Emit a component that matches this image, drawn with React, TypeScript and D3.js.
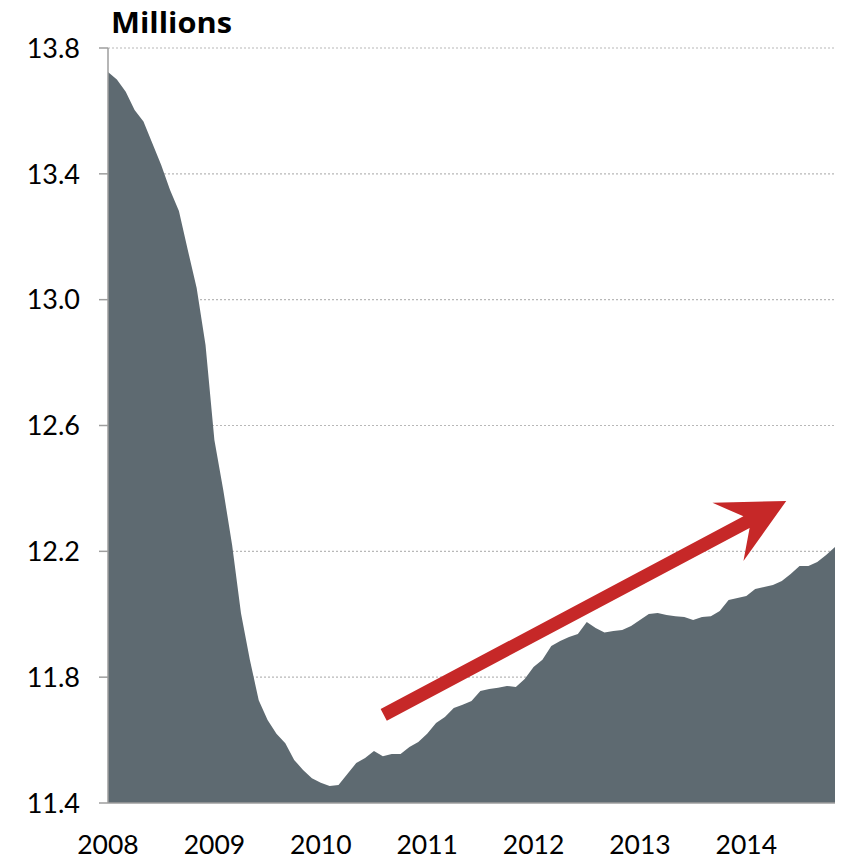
import React from "react";
import * as d3 from "d3";

// Monthly values, Jan 2008 – Nov 2014 (millions)
const values: number[] = [
  13.724, 13.7, 13.661, 13.603, 13.566, 13.497, 13.428, 13.349, 13.282, 13.158, 13.037, 12.856,
  12.554, 12.395, 12.22, 12.003, 11.855, 11.727, 11.664, 11.62, 11.59, 11.537, 11.505, 11.479,
  11.464, 11.454, 11.457, 11.492, 11.527, 11.543, 11.565, 11.549, 11.556, 11.556, 11.578, 11.594,
  11.62, 11.654, 11.673, 11.702, 11.712, 11.724, 11.756, 11.762, 11.766, 11.772, 11.769, 11.794,
  11.832, 11.855, 11.899, 11.915, 11.928, 11.937, 11.975, 11.956, 11.942, 11.947, 11.95, 11.963,
  11.982, 12.001, 12.004, 11.998, 11.994, 11.991, 11.982, 11.991, 11.994, 12.01, 12.045, 12.052,
  12.058, 12.08, 12.087, 12.093, 12.106, 12.128, 12.153, 12.153, 12.166, 12.188, 12.214,
];
const years: string[] = ["2008", "2009", "2010", "2011", "2012", "2013", "2014"];
const yTicks: number[] = [11.4, 11.8, 12.2, 12.6, 13.0, 13.4, 13.8];
const unitLabel = "Millions";
// trend arrow annotation: [month index, value]
const arrowStart: [number, number] = [31.1, 11.68];
const arrowEnd: [number, number] = [76.5, 12.36];

export default function App() {
  const W = 841, H = 859;
  const left = 108, right = 835, top = 48, bottom = 803;
  const x = d3.scaleLinear().domain([0, values.length - 1]).range([left, right]);
  const y = d3.scaleLinear().domain([11.4, 13.8]).range([bottom, top]);
  const area = d3
    .area<number>()
    .x((_, i) => x(i))
    .y0(y(11.4))
    .y1((d) => y(d));

  // arrow geometry
  const sx = x(arrowStart[0]), sy = y(arrowStart[1]);
  const ex = x(arrowEnd[0]), ey = y(arrowEnd[1]);
  const len = Math.hypot(ex - sx, ey - sy);
  const ux = (ex - sx) / len, uy = (ey - sy) / len;
  const px = -uy, py = ux;
  const pt = (along: number, perp: number) =>
    [ex - ux * along + px * perp, ey - uy * along + py * perp] as [number, number];
  const halfW = 6.6;
  const notch = 45, barb = 66, barbW = 33;
  const arrowPts: [number, number][] = [
    [sx + px * halfW, sy + py * halfW],
    pt(notch, halfW),
    pt(barb, barbW),
    [ex, ey],
    pt(barb, -barbW),
    pt(notch, -halfW),
    [sx - px * halfW, sy - py * halfW],
  ];

  const font = "Lato, 'Open Sans', sans-serif";

  return (
    <svg width={W} height={H} style={{ position: "absolute", left: 0, top: 0 }}>
      <rect width={W} height={H} fill="#fff" />
      {yTicks.slice(1).map((t) => (
        <line
          key={"g" + t}
          x1={left}
          x2={right}
          y1={y(t)}
          y2={y(t)}
          stroke="#b8b8b8"
          strokeWidth={1.2}
          strokeDasharray="2 2"
        />
      ))}
      <path d={area(values) || ""} fill="#5e6a71" />
      <line x1={left} x2={right} y1={bottom} y2={bottom} stroke="#9e9e9e" strokeWidth={1.5} />
      <line x1={left} x2={left} y1={top} y2={bottom} stroke="#9e9e9e" strokeWidth={1.5} />
      {yTicks.map((t) => (
        <g key={"t" + t}>
          <line x1={left - 9} x2={left} y1={y(t)} y2={y(t)} stroke="#9e9e9e" strokeWidth={1.5} />
          <text
            x={80}
            y={y(t)}
            dy="0.36em"
            textAnchor="end"
            fontFamily={font}
            fontSize={27}
            fill="#000"
          >
            {t.toFixed(1)}
          </text>
        </g>
      ))}
      {years.map((yr, k) => (
        <text
          key={yr}
          x={x(k * 12)}
          y={854}
          textAnchor="middle"
          fontFamily={font}
          fontSize={26.5}
          fill="#000"
        >
          {yr}
        </text>
      ))}
      <text
        x={111}
        y={33}
        fontFamily="'Open Sans', sans-serif"
        fontWeight="bold"
        fontSize={29}
        textLength={121}
        lengthAdjust="spacingAndGlyphs"
        fill="#000"
      >
        {unitLabel}
      </text>
      <polygon points={arrowPts.map((p) => p.join(",")).join(" ")} fill="#c62828" />
    </svg>
  );
}
